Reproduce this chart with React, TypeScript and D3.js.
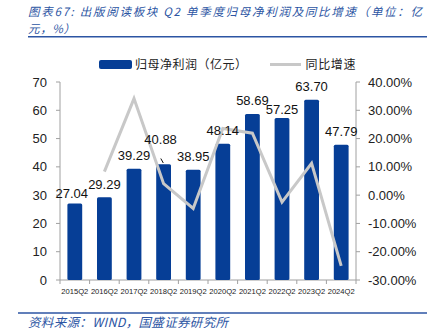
import React from "react";
import * as d3 from "d3";

const categories = ["2015Q2","2016Q2","2017Q2","2018Q2","2019Q2","2020Q2","2021Q2","2022Q2","2023Q2","2024Q2"];
const profit = [27.04, 29.29, 39.29, 40.88, 38.95, 48.14, 58.69, 57.25, 63.70, 47.79];
const growth: (number | null)[] = [null, 8.32, 34.14, 4.05, -4.72, 23.59, 21.91, -2.45, 11.27, -24.98];
const leftTicks = [0, 10, 20, 30, 40, 50, 60, 70];
const rightTicks = [-30, -20, -10, 0, 10, 20, 30, 40];
const titleLine1 = "图表67:  出版阅读板块  Q2  单季度归母净利润及同比增速（单位：亿";
const titleLine2 = "元，%）";
const sourceText = "资料来源：WIND，国盛证券研究所";
const legendBar = "归母净利润（亿元）";
const legendLine = "同比增速";

// label layout tweaks (dx, dy)
const labelAdjust: Record<number, [number, number]> = { 0: [-3, 3], 7: [0, 4], 3: [-3, -12] };

const W = 427, H = 334;
const plot = { left: 60, right: 356, top: 82, bottom: 280 };
const BLUE = "#063e96";
const GRAY = "#c8c8c8";
const TITLE = "#2c55a3";
const FONT = "'Liberation Sans', Arial, sans-serif";
const CJK = "'Noto Sans CJK SC', sans-serif";

export default function App() {
  const x = d3.scaleBand<string>().domain(categories).range([plot.left, plot.right]).paddingInner(0.5).paddingOuter(0.25);
  const xb = d3.scaleBand<string>().domain(categories).range([plot.left, plot.right]);
  const yL = d3.scaleLinear().domain([0, 70]).range([plot.bottom, plot.top]);
  const yR = d3.scaleLinear().domain([-30, 40]).range([plot.bottom, plot.top]);
  const pts = categories.map((c, i) => ({ c, v: growth[i] }));
  const line = d3.line<{ c: string; v: number | null }>()
    .defined(d => d.v !== null)
    .x(d => (xb(d.c) as number) + xb.bandwidth() / 2)
    .y(d => yR(d.v as number));
  const axisColor = "#a0a0a0";
  return (
    <svg width={W} height={H} style={{ position: "absolute", left: 0, top: 0, background: "#fff" }}>
      {/* title */}
      <text x={28} y={16} fontFamily={CJK} fontSize={11.5} fontStyle="italic" fill={TITLE} textLength={394} lengthAdjust="spacing">{titleLine1}</text>
      <text x={28} y={32.5} fontFamily={CJK} fontSize={11.5} fontStyle="italic" fill={TITLE} textLength={47} lengthAdjust="spacing">{titleLine2}</text>
      <line x1={28} x2={427} y1={36.8} y2={36.8} stroke={TITLE} strokeWidth={1.6} />

      {/* legend */}
      <rect x={99} y={60} width={33} height={9} rx={2} fill={BLUE} />
      <text x={135} y={69} fontFamily={CJK} fontSize={12} fill="#222" textLength={112} lengthAdjust="spacing">{legendBar}</text>
      <line x1={270} x2={301} y1={64.5} y2={64.5} stroke={GRAY} strokeWidth={3} />
      <text x={305.5} y={69} fontFamily={CJK} fontSize={12} fill="#222" textLength={50} lengthAdjust="spacing">{legendLine}</text>

      {/* axes */}
      <line x1={plot.left} x2={plot.left} y1={plot.top} y2={plot.bottom} stroke={axisColor} />
      <line x1={plot.right} x2={plot.right} y1={plot.top} y2={plot.bottom} stroke={axisColor} />
      <line x1={plot.left} x2={plot.right} y1={plot.bottom} y2={plot.bottom} stroke={axisColor} />
      {leftTicks.map(t => (
        <g key={"l" + t}>
          <line x1={plot.left - 4} x2={plot.left} y1={yL(t)} y2={yL(t)} stroke={axisColor} />
          <text x={47} y={yL(t) + 4.5} textAnchor="end" fontFamily={FONT} fontSize={13} fill="#222">{t}</text>
        </g>
      ))}
      {rightTicks.map(t => (
        <g key={"r" + t}>
          <line x1={plot.right} x2={plot.right + 4} y1={yR(t)} y2={yR(t)} stroke={axisColor} />
          <text x={368} y={yR(t) + 4.5} fontFamily={FONT} fontSize={13} fill="#222">{t.toFixed(2) + "%"}</text>
        </g>
      ))}
      {categories.map((c) => (
        <line key={"xt" + c} x1={(xb(c) as number)} x2={(xb(c) as number)} y1={plot.bottom} y2={plot.bottom + 4} stroke={axisColor} />
      ))}
      <line x1={plot.right} x2={plot.right} y1={plot.bottom} y2={plot.bottom + 4} stroke={axisColor} />
      {categories.map(c => (
        <text key={"xl" + c} x={(xb(c) as number) + xb.bandwidth() / 2} y={294} textAnchor="middle" fontFamily={FONT} fontSize={7.6} fill="#222">{c}</text>
      ))}

      {/* bars */}
      {categories.map((c, i) => (
        <rect key={"b" + c} x={x(c)} y={yL(profit[i])} width={x.bandwidth()} height={plot.bottom - yL(profit[i])} rx={1.5} fill={BLUE} />
      ))}

      {/* line */}
      <path d={line(pts) || ""} fill="none" stroke={GRAY} strokeWidth={3} strokeLinejoin="miter" />

      {/* labels */}
      {categories.map((c, i) => {
        const adj = labelAdjust[i] || [0, 0];
        const cx = (xb(c) as number) + xb.bandwidth() / 2 + adj[0];
        const by = yL(profit[i]) - 8.5 + adj[1];
        return (
          <text key={"v" + c} x={cx} y={by} textAnchor="middle" fontFamily={FONT} fontSize={13} fill="#111">{profit[i].toFixed(2)}</text>
        );
      })}
      <line x1={160.8} x2={163.3} y1={158.5} y2={163} stroke="#111" strokeWidth={1} />

      {/* footer */}
      <line x1={18} x2={427} y1={313} y2={313} stroke={TITLE} strokeWidth={1.6} />
      <text x={28} y={327} fontFamily={CJK} fontSize={12.5} fontStyle="italic" fill={TITLE} textLength={200} lengthAdjust="spacing">{sourceText}</text>
    </svg>
  );
}
